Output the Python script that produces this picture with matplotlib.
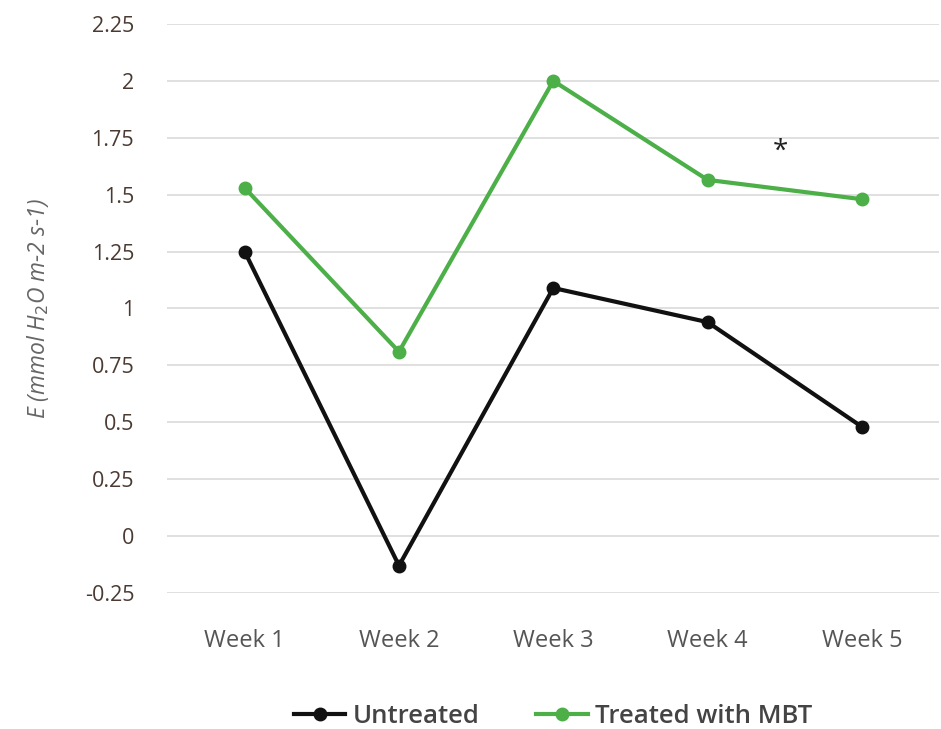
import numpy as np
import matplotlib.pyplot as plt

weeks = ['Week 1', 'Week 2', 'Week 3', 'Week 4', 'Week 5']
untreated = [1.25, -0.13, 1.09, 0.94, 0.48]
treated = [1.53, 0.81, 2.0, 1.565, 1.48]
yticks = [-0.25, 0, 0.25, 0.5, 0.75, 1, 1.25, 1.5, 1.75, 2, 2.25]
ytick_labels = ['-0.25', '0', '0.25', '0.5', '0.75', '1', '1.25', '1.5', '1.75', '2', '2.25']

plt.rcParams['font.family'] = ['Open Sans', 'DejaVu Sans']

fig = plt.figure(figsize=(9.41, 7.29), dpi=100)
ax = fig.add_axes([0.178, 0.1866, 0.82, 0.7805])

x = np.arange(len(weeks))
ax.plot(x, untreated, '-o', color='#111111', lw=3, ms=9, label='Untreated', zorder=3)
ax.plot(x, treated, '-o', color='#4caf48', lw=3, ms=9, label='Treated with MBT', zorder=3)

ax.text(3.47, 1.69, '*', fontsize=20, ha='center', va='center', color='#222222')

ax.set_ylim(-0.25, 2.25)
ax.set_xlim(-0.5, 4.5)
ax.set_yticks(yticks)
ax.set_yticklabels(ytick_labels)
ax.set_xticks(x)
ax.set_xticklabels(weeks)
ax.grid(axis='y', color='#dddddd', lw=1.3)
ax.set_axisbelow(True)
for s in ax.spines.values():
    s.set_visible(False)
ax.tick_params(axis='y', length=0, pad=24, labelsize=15.5, labelcolor='#4a3a32')
ax.tick_params(axis='x', length=0, pad=26, labelsize=17, labelcolor='#555555')

ax.set_ylabel('E (mmol H$_2$O m-2 s-1)', fontsize=16.5, style='italic', color='#666666', labelpad=24)

leg = ax.legend(loc='upper center', bbox_to_anchor=(0.5, -0.155), ncol=2, frameon=False,
                handlelength=2.0, columnspacing=2.2, handletextpad=0.3,
                prop={'weight': 'semibold', 'size': 18.5})
for t in leg.get_texts():
    t.set_color('#444444')

fig.savefig('out.png', dpi=100)
